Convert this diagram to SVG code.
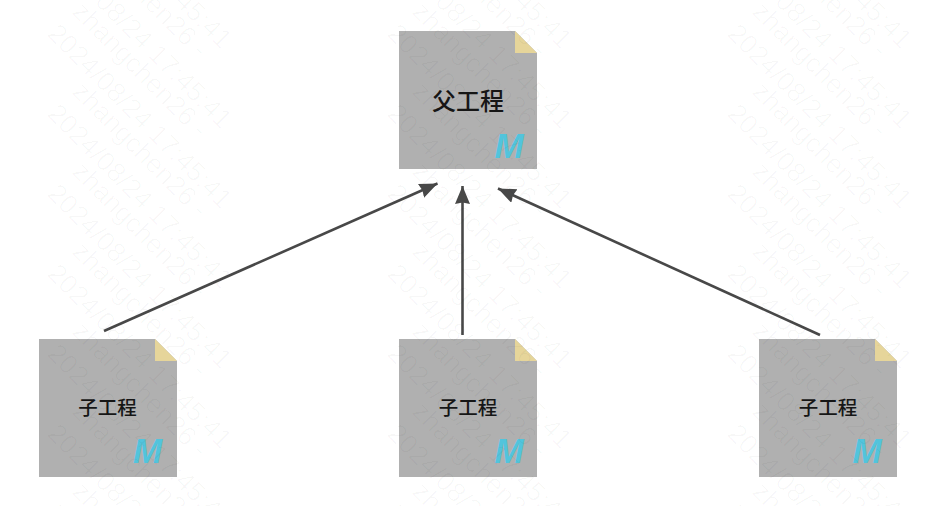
<svg xmlns="http://www.w3.org/2000/svg" width="940" height="506" viewBox="0 0 940 506">
<style>
.wm{font-family:"Liberation Sans",Arial,sans-serif;font-size:27px;fill:#000;fill-opacity:.028}
.page{fill:#b0b0b0}
.fold{fill:#e6d59a}
.big{font-family:"Noto Sans CJK SC",sans-serif;font-weight:500;font-size:24px;fill:#161616;text-anchor:middle}
.small{font-family:"Noto Sans CJK SC",sans-serif;font-weight:500;font-size:19.500px;fill:#161616;text-anchor:middle}
.m{font-family:"Liberation Sans",Arial,sans-serif;font-style:italic;font-weight:700;font-size:35px;fill:#52c4dc;text-anchor:middle}
.edge{stroke:#484848;stroke-width:2.6;fill:none;marker-end:url(#arrow)}
</style>
<defs>
<marker id="arrow" markerUnits="userSpaceOnUse" markerWidth="20" markerHeight="16" refX="18" refY="7.500" orient="auto"><path d="M0 0L18 7.500L0 15L1.500 7.500Z" fill="#484848"/></marker>
<path id="sheet" d="M0 0H116L138 22V138H0Z"/>
<g id="w">
<text class="wm" transform="translate(71 13) rotate(45)">zhangchen26 -</text>
<text class="wm" transform="translate(46 35) rotate(45)">2024/08/24 17:45:41</text>
</g>
<g id="wc"><use href="#w" y="-240"/><use href="#w" y="-160"/><use href="#w" y="-80"/><use href="#w"/><use href="#w" y="80"/><use href="#w" y="160"/><use href="#w" y="240"/><use href="#w" y="320"/><use href="#w" y="400"/><use href="#w" y="480"/></g>
</defs>
<rect width="940" height="506" fill="#fff"/>
<g id="connectors">
<path class="edge" d="M104 331L437.500 183.500"/>
<path class="edge" d="M462.500 335V186"/>
<path class="edge" d="M820 335L498 188.500"/>
</g>
<g id="parent"><use href="#sheet" x="399" y="31" class="page"/><path class="fold" d="M515 31L537 53H515Z"/><text class="big" x="468" y="110">父工程</text><text class="m" x="509" y="158">M</text></g>
<g id="child1"><use href="#sheet" x="39" y="339" class="page"/><path class="fold" d="M155 339L177 361H155Z"/><text class="small" x="107.500" y="415">子工程</text><text class="m" x="147.500" y="463">M</text></g>
<g id="child2"><use href="#sheet" x="399" y="339" class="page"/><path class="fold" d="M515 339L537 361H515Z"/><text class="small" x="468" y="415">子工程</text><text class="m" x="509" y="463">M</text></g>
<g id="child3"><use href="#sheet" x="759" y="339" class="page"/><path class="fold" d="M875 339L897 361H875Z"/><text class="small" x="828" y="415">子工程</text><text class="m" x="867" y="463">M</text></g>
<g id="watermark"><use href="#wc"/><use href="#wc" x="340"/><use href="#wc" x="680"/></g>
</svg>
